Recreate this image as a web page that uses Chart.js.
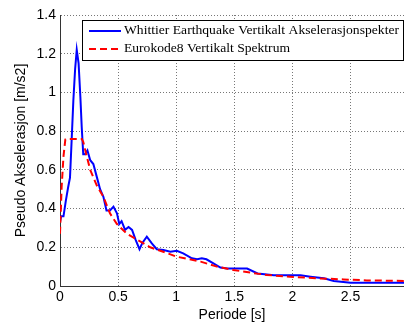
<!DOCTYPE html>
<html>
<head>
<meta charset="utf-8">
<script src="https://cdn.jsdelivr.net/npm/chart.js@4/dist/chart.umd.min.js"></script>
<style>
html,body{margin:0;padding:0;background:#fff;}
#wrap{width:404px;height:325px;position:relative;}
</style>
</head>
<body>
<div id="wrap"><canvas id="c" width="404" height="325"></canvas></div>
<script>
// ---- Data ----
const seriesLabels = ["Whittier Earthquake Vertikalt Akselerasjonspekter", "Eurokode8 Vertikalt Spektrum"];

const bluePeriod = [0.0, 0.01, 0.03, 0.05, 0.07, 0.086, 0.1, 0.115, 0.13, 0.144, 0.16, 0.175, 0.187, 0.2, 0.215, 0.236, 0.26, 0.287, 0.316, 0.345, 0.374, 0.40, 0.43, 0.46, 0.49, 0.51, 0.53, 0.56, 0.59, 0.62, 0.65, 0.684, 0.71, 0.747, 0.79, 0.833, 0.89, 0.95, 1.005, 1.06, 1.135, 1.18, 1.22, 1.26, 1.32, 1.38, 1.44, 1.55, 1.61, 1.70, 1.84, 2.07, 2.155, 2.27, 2.356, 2.5, 2.96];
const blueAccel  = [0.33, 0.36, 0.36, 0.44, 0.51, 0.56, 0.75, 0.96, 1.12, 1.22, 1.15, 0.98, 0.82, 0.68, 0.68, 0.70, 0.65, 0.63, 0.565, 0.50, 0.46, 0.39, 0.39, 0.41, 0.375, 0.32, 0.335, 0.29, 0.305, 0.29, 0.24, 0.19, 0.224, 0.255, 0.22, 0.19, 0.186, 0.177, 0.182, 0.169, 0.143, 0.138, 0.143, 0.138, 0.117, 0.095, 0.09, 0.09, 0.09, 0.065, 0.055, 0.055, 0.048, 0.04, 0.026, 0.017, 0.017];

const redPeriod = [0.0, 0.014, 0.03, 0.046, 0.057, 0.187, 0.2, 0.23, 0.26, 0.316, 0.374, 0.43, 0.49, 0.575, 0.66, 0.776, 0.92, 1.0, 1.21, 1.35, 1.49, 1.64, 1.78, 1.98, 2.21, 2.44, 2.64, 2.96];
const redAccel  = [0.27, 0.51, 0.67, 0.757, 0.76, 0.76, 0.745, 0.67, 0.60, 0.52, 0.46, 0.375, 0.32, 0.27, 0.24, 0.20, 0.17, 0.152, 0.126, 0.10, 0.083, 0.069, 0.057, 0.048, 0.04, 0.034, 0.029, 0.026];

const xTicks = [0, 0.5, 1, 1.5, 2, 2.5];
const yTicks = [0, 0.2, 0.4, 0.6, 0.8, 1, 1.2, 1.4];
const xTitle = "Periode [s]";
const yTitle = "Pseudo Akselerasjon [m/s2]";

// ---- Build chart ----
const toPts = (xs, ys) => xs.map((x, i) => ({x: x, y: ys[i]}));

const legendBox = {
  id: 'legendBox',
  afterDraw(chart) {
    const ctx = chart.ctx;
    const ds = chart.data.datasets;
    const bx = 82.5, by = 20.5, bw = 321, bh = 40;
    ctx.save();
    ctx.fillStyle = '#fff';
    ctx.fillRect(bx, by, bw, bh);
    ctx.strokeStyle = '#000';
    ctx.lineWidth = 1;
    ctx.setLineDash([]);
    ctx.strokeRect(bx, by, bw, bh);
    const rows = [31, 49];
    const widths = [275, 166];
    ds.forEach((d, i) => {
      const y = rows[i];
      ctx.beginPath();
      ctx.strokeStyle = d.borderColor;
      ctx.lineWidth = d.borderWidth;
      ctx.setLineDash(d.borderDash || []);
      ctx.moveTo(89, y);
      ctx.lineTo(121, y);
      ctx.stroke();
      ctx.setLineDash([]);
      ctx.fillStyle = '#000';
      ctx.font = '13px "Liberation Serif"';
      ctx.textBaseline = 'middle';
      ctx.textAlign = 'left';
      const tw = ctx.measureText(d.label).width;
      ctx.save();
      ctx.translate(124, y);
      ctx.scale(widths[i] / tw, 1);
      ctx.fillText(d.label, 0, 0);
      ctx.restore();
    });
    ctx.restore();
  }
};

new Chart(document.getElementById('c'), {
  type: 'line',
  data: {
    datasets: [
      {
        label: seriesLabels[0],
        data: toPts(bluePeriod, blueAccel),
        borderColor: '#0000ff',
        backgroundColor: '#0000ff',
        borderWidth: 2,
        pointRadius: 0,
        tension: 0,
        fill: false,
        order: 1
      },
      {
        label: seriesLabels[1],
        data: toPts(redPeriod, redAccel),
        borderColor: '#ff0000',
        backgroundColor: '#ff0000',
        borderWidth: 2,
        borderDash: [7, 4],
        pointRadius: 0,
        tension: 0,
        fill: false,
        order: 0
      }
    ]
  },
  options: {
    responsive: false,
    animation: false,
    devicePixelRatio: 1,
    layout: {padding: {top: 15, right: 0, left: 0, bottom: 0}},
    plugins: {legend: {display: false}, tooltip: {enabled: false}},
    scales: {
      x: {
        type: 'linear',
        min: 0,
        max: 2.96,
        afterFit(s) { s.height = 39; },
        afterBuildTicks(s) { s.ticks = xTicks.map(v => ({value: v})); },
        ticks: {
          includeBounds: false,
          font: {family: '"Liberation Sans"', size: 14},
          color: '#000',
          padding: 3,
          maxRotation: 0,
          callback: v => String(v)
        },
        grid: {color: '#777', lineWidth: 1, drawTicks: false},
        border: {display: true, color: '#333', width: 1, dash: [1, 2]},
        title: {display: true, text: xTitle, color: '#000', font: {family: '"Liberation Sans"', size: 14}, padding: {top: 0, bottom: 1.6}}
      },
      y: {
        type: 'linear',
        min: 0,
        max: 1.4,
        afterFit(s) { s.width = 60; },
        afterBuildTicks(s) { s.ticks = yTicks.map(v => ({value: v})); },
        ticks: {
          font: {family: '"Liberation Sans"', size: 14},
          color: '#000',
          padding: 4,
          callback: v => String(v)
        },
        grid: {color: '#777', lineWidth: 1, drawTicks: false},
        border: {display: true, color: '#333', width: 1, dash: [1, 2]},
        title: {display: true, text: yTitle, color: '#000', font: {family: '"Liberation Sans"', size: 14}, padding: {top: 12.6, bottom: 0}}
      }
    }
  },
  plugins: [legendBox]
});
</script>
</body>
</html>
